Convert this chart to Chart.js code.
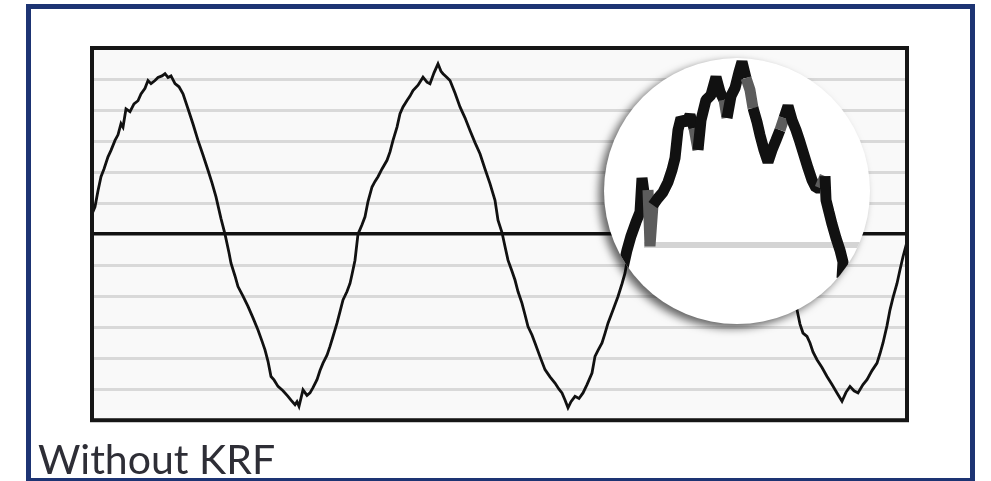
<!DOCTYPE html>
<html>
<head>
<meta charset="utf-8">
<script src="https://cdn.jsdelivr.net/npm/chart.js@4"></script>
<style>
  html, body { margin: 0; padding: 0; background: #fff; }
  canvas { display: block; }
</style>
</head>
<body>
<canvas id="chart" width="991" height="481"></canvas>
<script>
// Noisy sine signal: sample position and level
const samples = [0,3,6,9,12,16,19,23,26,29,31,34,38,42,46,49,53,56,59,63,66,70,73,76,79,83,87,91,96,101,106,111,116,120,124,129,133,137,139,143,146,151,156,161,166,170,173,176,179,182,186,191,196,199,203,205,207,211,215,218,221,225,228,231,235,238,241,245,248,251,255,258,260,263,266,270,273,276,280,283,286,290,295,298,301,305,308,311,315,318,321,326,331,335,338,342,346,349,351,355,358,363,368,373,378,383,388,393,398,403,406,410,413,416,420,423,426,430,433,436,440,443,448,453,458,463,467,470,473,476,479,483,487,491,495,500,503,506,510,513,516,521,526,530,533,540,550,562,575,590,605,618,632,647,662,676,685,694,705,708,711,715,718,721,725,730,735,740,745,750,754,758,762,766,771,775,780,785,788,791,795,798,801,805,808,811,815];
const volts = [0.65,0.88,1.4,1.85,2.1,2.49,2.7,3.02,3.2,3.56,3.45,4.04,3.95,4.2,4.3,4.52,4.7,4.95,4.85,4.95,5.05,5.1,5.17,5.05,5.1,4.85,4.75,4.52,4.04,3.55,3.02,2.55,2.06,1.65,1.2,0.5,0,-0.6,-0.94,-1.35,-1.69,-2.0,-2.33,-2.7,-3.09,-3.45,-3.73,-4.1,-4.59,-4.7,-4.91,-5.05,-5.23,-5.35,-5.5,-5.4,-5.55,-5.02,-5.2,-5.12,-4.95,-4.69,-4.4,-4.16,-3.9,-3.62,-3.3,-2.87,-2.5,-2.12,-1.85,-1.59,-1.3,-0.84,0,0.3,0.56,1.05,1.52,1.7,1.85,2.1,2.38,2.65,3.02,3.45,3.88,4.1,4.31,4.45,4.63,4.8,5.06,4.9,4.85,5.2,5.49,5.25,5.17,5.05,4.95,4.55,4.1,3.75,3.34,2.95,2.59,2.1,1.63,1.09,0.45,0.05,-0.4,-0.84,-1.2,-1.48,-1.85,-2.23,-2.6,-2.98,-3.25,-3.51,-3.95,-4.37,-4.6,-4.8,-5.0,-5.12,-5.35,-5.6,-5.4,-5.23,-5.3,-5.12,-4.85,-4.48,-3.94,-3.75,-3.51,-3.2,-2.87,-2.45,-2.01,-1.6,-1.26,0,1.1,2.3,3.4,4.4,5.0,5.2,4.8,3.9,2.6,1.1,0,-1.2,-2.44,-2.9,-3.19,-3.3,-3.51,-3.8,-4.05,-4.3,-4.59,-4.85,-5.12,-5.39,-5.1,-4.91,-5.05,-5.12,-4.85,-4.69,-4.4,-4.16,-3.85,-3.51,-2.95,-2.44,-2.05,-1.59,-1.15,-0.73,-0.25];

// Magnified detail of one crest, shown in the lens
const insetSamples = [0.75,1.75,2.75,4,5,5.5,6.25,7,7.5,8.25,9.5,10.75,12,13,13.75,14.5,15.25,16.5,17.5,18.5,19.5,20.25,21.5,22.75,24,25,26,26.75,27.75,28.75,29.75,30.5,31.5,32.5,33.25,34.25,35,36,37,38,39,40,41,42,43,44,45,46,47,48,49,50,51.25,51.5,52.25,53,54,55,55.75,55.5];
const insetVolts = [-1.28,-0.28,0.5,1.28,1.83,3.72,2.5,3.06,-0.06,2.22,2.61,2.94,3.5,4.17,4.83,6.39,7.06,6.72,7.22,6.5,5.28,6.94,8.06,8.33,9.33,8.5,8.06,7.06,8.28,8.72,9.61,10.17,9.28,8.61,7.61,6.83,6.11,5.28,4.61,5.28,5.83,6.39,7.06,7.72,6.94,6.39,5.72,5,4.28,3.61,3.17,3.17,3.83,2.5,1.83,1.17,0.39,-0.28,-0.94,-1.83];

// Reference level inside the lens
const insetRefSamples = [6, 60];
const insetRefVolts = [0, 0];

const caption = 'Without KRF';

const pts = (xs, ys) => xs.map((x, i) => ({ x, y: ys[i] }));

// Lens placement, in the magnified axes' units
const lens = { x: 29.25, y: 3, r: 33.25 };
// Segments of the magnified trace drawn in a lighter ink
const lightInk = new Set([7, 8, 19, 26, 32, 33, 41, 51]);

function lensGeometry(chart) {
  const sx = chart.scales.xi, sy = chart.scales.yi;
  const cx = sx.getPixelForValue(lens.x);
  const cy = sy.getPixelForValue(lens.y);
  const r = sx.getPixelForValue(lens.x + lens.r) - cx;
  return { cx, cy, r };
}

const framePlugin = {
  id: 'frame',
  beforeDraw(chart) {
    const { ctx, chartArea: a } = chart;
    ctx.save();
    ctx.fillStyle = '#ffffff';
    ctx.fillRect(0, 0, chart.width, chart.height);
    ctx.fillStyle = '#f9f9f9';
    ctx.fillRect(a.left, a.top, a.right - a.left, a.bottom - a.top);
    ctx.strokeStyle = '#1d3473';
    ctx.lineWidth = 5;
    ctx.strokeRect(28.5, 6.5, 944, 474);
    ctx.restore();
  },
  afterDatasetsDraw(chart) {
    const { ctx, chartArea: a } = chart;
    ctx.save();
    ctx.strokeStyle = '#161616';
    ctx.lineWidth = 4;
    ctx.strokeRect(a.left, a.top, a.right - a.left, a.bottom - a.top);
    ctx.restore();
  }
};

const lensPlugin = {
  id: 'lens',
  beforeDatasetDraw(chart, args) {
    const ds = chart.data.datasets[args.index];
    if (!ds.inLens) return;
    const { ctx } = chart;
    const g = lensGeometry(chart);
    if (ds.lensBase) {
      ctx.save();
      ctx.shadowColor = 'rgba(0,0,0,0.6)';
      ctx.shadowBlur = 9;
      ctx.shadowOffsetX = -5;
      ctx.shadowOffsetY = 4;
      ctx.fillStyle = '#ffffff';
      ctx.beginPath();
      ctx.arc(g.cx, g.cy, g.r, 0, Math.PI * 2);
      ctx.fill();
      ctx.restore();
    }
    ctx.save();
    ctx.beginPath();
    ctx.arc(g.cx, g.cy, g.r, 0, Math.PI * 2);
    ctx.clip();
  },
  afterDatasetDraw(chart, args) {
    const ds = chart.data.datasets[args.index];
    if (ds.inLens) chart.ctx.restore();
  }
};

new Chart(document.getElementById('chart'), {
  type: 'line',
  data: {
    datasets: [
      {
        label: 'detail',
        data: pts(insetSamples, insetVolts),
        xAxisID: 'xi', yAxisID: 'yi',
        borderColor: '#111111', borderWidth: 11,
        borderJoinStyle: 'bevel', borderCapStyle: 'butt',
        segment: { borderColor: c => lightInk.has(c.p0DataIndex) ? '#5c5c5c' : undefined },
        pointRadius: 0, tension: 0, order: 0,
        inLens: true
      },
      {
        label: 'detail level',
        data: pts(insetRefSamples, insetRefVolts),
        xAxisID: 'xi', yAxisID: 'yi',
        borderColor: '#d4d4d4', borderWidth: 6,
        pointRadius: 0, tension: 0, order: 1,
        inLens: true, lensBase: true
      },
      {
        label: 'signal',
        data: pts(samples, volts),
        xAxisID: 'x', yAxisID: 'y',
        borderColor: '#111111', borderWidth: 2.8,
        pointRadius: 0, tension: 0, order: 2
      }
    ]
  },
  options: {
    responsive: false,
    animation: false,
    events: [],
    layout: { padding: { left: 38, top: 48, right: 84, bottom: 0 } },
    scales: {
      x: { type: 'linear', min: 0, max: 815, display: false },
      y: {
        type: 'linear', min: -6, max: 6,
        ticks: { display: false, stepSize: 1 },
        border: { display: false },
        grid: {
          drawTicks: false,
          color: c => c.tick.value === 0 ? '#111111' : '#d9d9d9',
          lineWidth: c => c.tick.value === 0 ? 3.5 : 3
        },
        afterFit: s => { s.width = 54; }
      },
      xi: { type: 'linear', min: -132, max: 71.75, display: false },
      yi: { type: 'linear', min: -9.722, max: 10.944, display: false }
    },
    plugins: {
      legend: { display: false },
      tooltip: { enabled: false },
      title: {
        display: true,
        text: caption,
        position: 'bottom',
        align: 'start',
        color: '#2e2e36',
        font: { family: 'Lato', size: 41, weight: 'normal', lineHeight: 0.97 },
        padding: { top: 21, bottom: 0 }
      }
    }
  },
  plugins: [framePlugin, lensPlugin]
});
</script>
</body>
</html>
